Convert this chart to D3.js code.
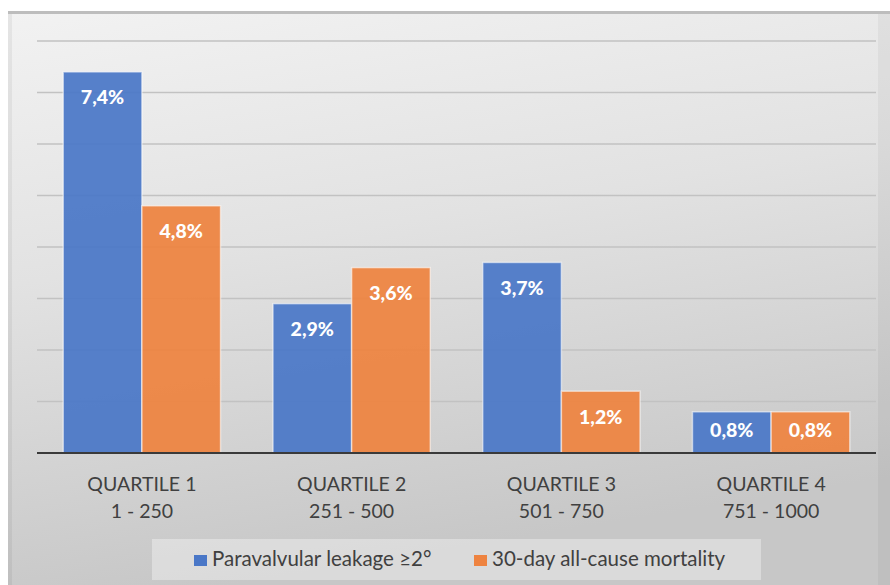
<!DOCTYPE html>
<html>
<head>
<meta charset="utf-8">
<script src="https://cdn.jsdelivr.net/npm/d3@7"></script>
<style>
  body { margin: 0; background: #fff; }
  svg { display: block; font-family: Lato, "Open Sans", sans-serif; }
</style>
</head>
<body>
<script>
// chart data
var quartiles = ["QUARTILE 1", "QUARTILE 2", "QUARTILE 3", "QUARTILE 4"];
var ranges = ["1 - 250", "251 - 500", "501 - 750", "751 - 1000"];
var seriesNames = ["Paravalvular leakage \u22652\u00b0", "30-day all-cause mortality"];
var leakage = [7.4, 2.9, 3.7, 0.8];
var mortality = [4.8, 3.6, 1.2, 0.8];
var yTicks = [0, 1, 2, 3, 4, 5, 6, 7, 8];

var colors = ["#4a77c7", "#ee8340"];

var W = 890, H = 585;
var margin = { top: 41, right: 14, bottom: 132, left: 37 },
  width = W - margin.left - margin.right,
  height = H - margin.top - margin.bottom;

var svg = d3.select("body").append("svg")
  .attr("width", W)
  .attr("height", H);

// background panel
var defs = svg.append("defs");
var grad = defs.append("linearGradient")
  .attr("id", "bg")
  .attr("x1", "0").attr("y1", "0").attr("x2", "0.25").attr("y2", "1");
grad.append("stop").attr("offset", "0%").attr("stop-color", "#f2f2f2");
grad.append("stop").attr("offset", "45%").attr("stop-color", "#e2e2e2");
grad.append("stop").attr("offset", "100%").attr("stop-color", "#c7c7c7");

svg.append("rect")
  .attr("x", 8).attr("y", 11)
  .attr("width", W - 8).attr("height", H - 11)
  .attr("fill", "url(#bg)");
svg.append("rect")
  .attr("x", 8).attr("y", 11)
  .attr("width", W - 8).attr("height", 3)
  .attr("fill", "#bdbdbd");
svg.append("rect")
  .attr("x", 8).attr("y", 14)
  .attr("width", 4).attr("height", H - 14)
  .attr("fill", "#000").attr("opacity", 0.05);
svg.append("rect")
  .attr("x", W - 12).attr("y", 14)
  .attr("width", 12).attr("height", H - 14)
  .attr("fill", "#000").attr("opacity", 0.04);

var g = svg.append("g")
  .attr("transform", "translate(" + margin.left + "," + margin.top + ")");

// scales
var x0 = d3.scaleBand()
  .domain(quartiles)
  .range([0, width])
  .paddingInner(0.25)
  .paddingOuter(0.125);

var x1 = d3.scaleBand()
  .domain([0, 1])
  .range([0, x0.bandwidth()]);

var y = d3.scaleLinear()
  .domain([0, 8])
  .range([height, 0]);

// gridlines
g.append("g")
  .selectAll("line")
  .data(yTicks.slice(1))
  .enter().append("line")
  .attr("x1", 0).attr("x2", width)
  .attr("y1", function(d) { return y(d); })
  .attr("y2", function(d) { return y(d); })
  .attr("stroke", "#c2c2c2")
  .attr("stroke-width", 1.5);

// bars
var rows = quartiles.map(function(q, i) {
  return { q: q, vals: [leakage[i], mortality[i]] };
});

var groups = g.selectAll(".grp")
  .data(rows)
  .enter().append("g")
  .attr("class", "grp")
  .attr("transform", function(d) { return "translate(" + x0(d.q) + ",0)"; });

groups.selectAll("rect")
  .data(function(d) { return d.vals.map(function(v, s) { return { s: s, v: v }; }); })
  .enter().append("rect")
  .attr("x", function(d) { return x1(d.s); })
  .attr("y", function(d) { return y(d.v); })
  .attr("width", x1.bandwidth())
  .attr("height", function(d) { return height - y(d.v); })
  .attr("fill", function(d) { return colors[d.s]; })
  .attr("fill-opacity", 0.93)
  .attr("stroke", "#ffffff")
  .attr("stroke-opacity", 0.55)
  .attr("stroke-width", 1.5);

groups.selectAll("text")
  .data(function(d) { return d.vals.map(function(v, s) { return { s: s, v: v }; }); })
  .enter().append("text")
  .attr("x", function(d) { return x1(d.s) + x1.bandwidth() / 2; })
  .attr("y", function(d) { return Math.min(y(d.v) + 32.5, height - 16); })
  .attr("text-anchor", "middle")
  .attr("fill", "#fff")
  .attr("font-weight", 900)
  .attr("font-size", "19.5px")
  .text(function(d) { return d3.format(".1f")(d.v).replace(".", ",") + "%"; });

// baseline
g.append("line")
  .attr("x1", 0).attr("x2", width)
  .attr("y1", height).attr("y2", height)
  .attr("stroke", "#3a3a3a")
  .attr("stroke-width", 2);

// category labels
var xAxis = g.append("g")
  .attr("transform", "translate(0," + height + ")");
quartiles.forEach(function(q, i) {
  var t = xAxis.append("text")
    .attr("x", x0(q) + x0.bandwidth() / 2)
    .attr("text-anchor", "middle")
    .attr("fill", "#404040")
    .attr("font-size", "19.5px");
  t.append("tspan").attr("x", x0(q) + x0.bandwidth() / 2).attr("y", 38).text(q);
  t.append("tspan").attr("x", x0(q) + x0.bandwidth() / 2).attr("y", 64.5).text(ranges[i]);
});

// legend
var legend = svg.append("g");
legend.append("rect")
  .attr("x", 152).attr("y", 539)
  .attr("width", 609).attr("height", 41)
  .attr("fill", "#ffffff").attr("opacity", 0.35);

var legendX = [194, 474];
seriesNames.forEach(function(name, i) {
  legend.append("rect")
    .attr("x", legendX[i]).attr("y", 555)
    .attr("width", 13).attr("height", 11)
    .attr("fill", colors[i]);
  legend.append("text")
    .attr("x", legendX[i] + 18).attr("y", 565.5)
    .attr("fill", "#404040")
    .attr("font-size", "20.5px")
    .text(name);
});
</script>
</body>
</html>
